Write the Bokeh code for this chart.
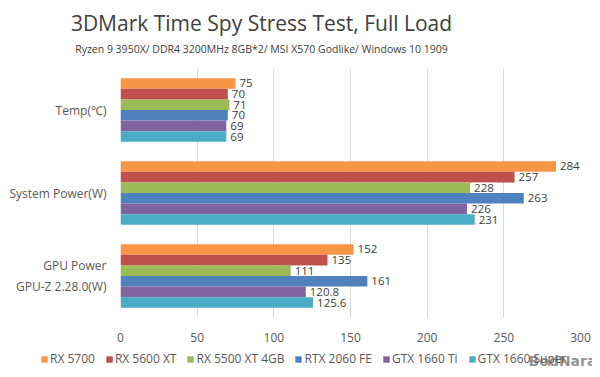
from bokeh.plotting import figure
from bokeh.models import FactorRange, Range1d, Legend, LegendItem, FixedTicker, Label
from bokeh.layouts import column
from bokeh.transform import dodge
from bokeh.core.properties import value
from bokeh.embed import file_html
from bokeh.resources import INLINE

title_text = "3DMark Time Spy Stress Test, Full Load"
subtitle_text = "Ryzen 9 3950X/ DDR4 3200MHz 8GB*2/ MSI X570 Godlike/ Windows 10 1909"
categories = ["GPU Power\nGPU-Z 2.28.0(W)", "System Power(W)", "Temp(℃)"]  # bottom to top
series_names = ["RX 5700", "RX 5600 XT", "RX 5500 XT 4GB", "RTX 2060 FE", "GTX 1660 Ti", "GTX 1660 Super"]
colors = ["#F79646", "#C0504D", "#9BBB59", "#4F81BD", "#8064A2", "#4BACC6"]
# values per series in category order: GPU Power, System Power, Temp
rx5700 = [152, 284, 75]
rx5600xt = [135, 257, 70]
rx5500xt = [111, 228, 71]
rtx2060fe = [161, 263, 70]
gtx1660ti = [120.8, 226, 69]
gtx1660super = [125.6, 231, 69]
series_values = [rx5700, rx5600xt, rx5500xt, rtx2060fe, gtx1660ti, gtx1660super]
x_ticks = [0, 50, 100, 150, 200, 250, 300]

FONT = "Open Sans"
TXT = "#595959"
W = 592


def strip(h):
    f = figure(width=W, height=h, x_range=Range1d(0, 1), y_range=Range1d(0, 1),
               output_backend="svg", toolbar_location=None, x_axis_type=None, y_axis_type=None,
               frame_align=False, min_border_left=0, min_border_right=0,
               min_border_top=0, min_border_bottom=0)
    f.outline_line_color = None
    f.xgrid.grid_line_color = None
    f.ygrid.grid_line_color = None
    return f


# header strip with title and subtitle
hf = strip(60)
hf.add_layout(Label(x=261, y=38, x_units="screen", y_units="screen", text=title_text,
                    text_align="center", text_baseline="middle", text_font=FONT,
                    text_font_size="21px", text_color="#404040"))
hf.add_layout(Label(x=261, y=12, x_units="screen", y_units="screen", text=subtitle_text,
                    text_align="center", text_baseline="middle", text_font=FONT,
                    text_font_size="10.5px", text_color="#404040"))

# main chart
p = figure(width=W, height=284, y_range=FactorRange(*categories), x_range=Range1d(0, 300),
           output_backend="svg", toolbar_location=None, frame_align=False,
           min_border_left=120, min_border_right=12, min_border_top=8, min_border_bottom=25)

bar_h = 0.128
for i, (name, col, vals) in enumerate(zip(series_names, colors, series_values)):
    off = (2.5 - i) * bar_h
    src = dict(cat=categories, v=vals, lab=[f"{v:g}" for v in vals])
    p.hbar(y=dodge("cat", off, range=p.y_range), right="v", left=0, height=bar_h,
           color=col, line_color=None, source=src)
    p.text(x="v", y=dodge("cat", off, range=p.y_range), text="lab", source=src,
           x_offset=3, text_baseline="middle", text_align="left",
           text_font=value(FONT), text_font_size="11.5px", text_color="#404040",
           background_fill_color="white", padding=1)

p.xaxis.ticker = FixedTicker(ticks=x_ticks)
p.xgrid.grid_line_color = "#D9D9D9"
p.ygrid.grid_line_color = None
p.outline_line_color = None
for ax in (p.xaxis[0], p.yaxis[0]):
    ax.axis_line_color = None
    ax.major_tick_line_color = None
    ax.minor_tick_line_color = None
    ax.major_label_text_font = FONT
    ax.major_label_text_font_size = "12px"
    ax.major_label_text_color = TXT
p.xaxis.major_label_standoff = 9
p.yaxis.major_label_standoff = 8

# legend strip
lf = strip(25)
items = []
for name, col in zip(series_names, colors):
    r = lf.hbar(y=[0], left=[0], right=[0], height=0, color=col, line_color=None)
    items.append(LegendItem(label=name, renderers=[r]))
legend = Legend(items=items, orientation="horizontal", location=(40, 2),
                glyph_width=8, glyph_height=8, label_standoff=2, spacing=10,
                label_text_font=FONT, label_text_font_size="12px", label_text_color=TXT,
                label_height=14, padding=0, margin=0, border_line_color=None,
                background_fill_alpha=0)
lf.add_layout(legend, "center")
lf.add_layout(Label(x=562, y=9, x_units="screen", y_units="screen", text="BodNara",
                    text_align="center", text_baseline="middle", text_font="DejaVu Sans",
                    text_font_style="bold", text_font_size="14px", text_color="#7F7F7F",
                    text_alpha=0.85))

open("out.html", "w").write(file_html(column(hf, p, lf, spacing=0), INLINE))
